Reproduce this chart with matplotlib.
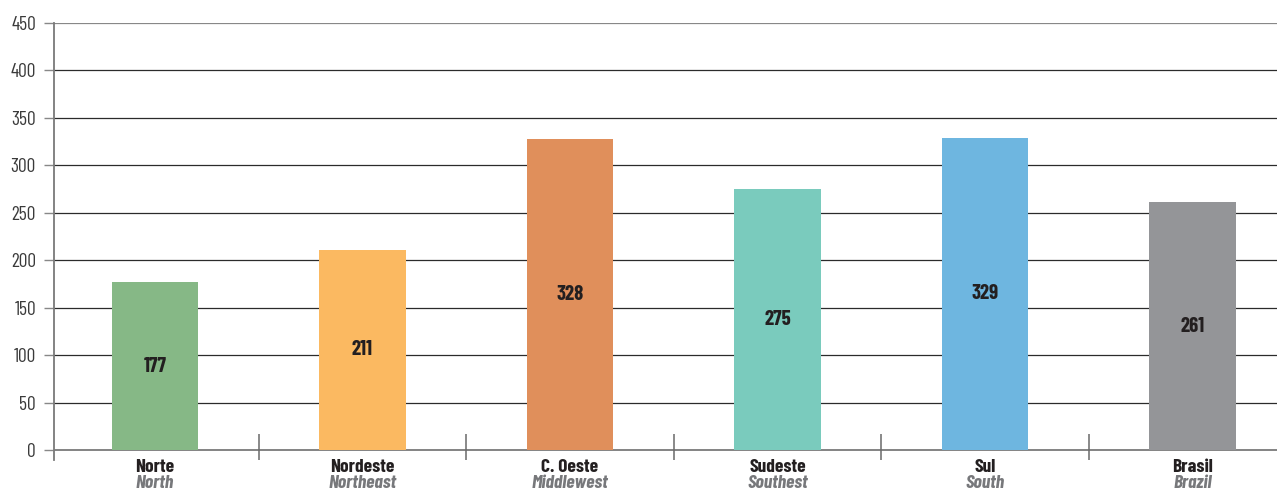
import matplotlib
matplotlib.use("Agg")
import matplotlib.pyplot as plt
import matplotlib.transforms as mtransforms
import numpy as np

regions_pt = ["Norte", "Nordeste", "C. Oeste", "Sudeste", "Sul", "Brasil"]
regions_en = ["North", "Northeast", "Middlewest", "Southest", "South", "Brazil"]
values = [177, 211, 328, 275, 329, 261]
colors = ["#86b886", "#fbb961", "#e08f5b", "#7acbbd", "#6eb6e0", "#949598"]
yticks = [0, 50, 100, 150, 200, 250, 300, 350, 400, 450]

plt.rcParams["font.family"] = ["Barlow Condensed", "DejaVu Sans"]

W, H = 1277, 492
fig = plt.figure(figsize=(W / 100, H / 100), dpi=100)
ax = fig.add_axes([54 / W, 32 / H, 1 - 54 / W, (460 - 23) / H])

x = np.arange(len(values))
ax.bar(x, values, width=0.415, color=colors, zorder=3)

for xi, v in zip(x, values):
    ax.text(xi, v / 2, f"{v}", ha="center", va="center", fontsize=15,
            fontweight="bold", color="#231f20", zorder=4)

ax.set_xlim(-0.487, 5.407)
ax.set_ylim(-10.5, 450)
ax.set_yticks(yticks)
ax.set_yticklabels([str(t) for t in yticks], fontsize=14, color="#3a3a3a", fontweight="normal")
ax.tick_params(axis="y", length=7, width=1, color="#888888", pad=6)
ax.set_xticks([])

ax.grid(axis="y", color="#2b2b2b", linewidth=0.9, zorder=1)
ax.yaxis.get_gridlines()[-1].set_color("#888888")
ax.yaxis.get_gridlines()[0].set_visible(False)
ax.axhline(0, color="#7a7a7a", linewidth=1.3, zorder=2)

for side in ["top", "right", "bottom"]:
    ax.spines[side].set_visible(False)
ax.spines["left"].set_color("#7a7a7a")
ax.spines["left"].set_linewidth(1.3)

# separators between regions
ax.vlines(x[:-1] + 0.5, -10.5, 17, color="#6a6a6a", linewidth=1.1, zorder=2)

trans = mtransforms.blended_transform_factory(ax.transData, ax.transAxes)
for xi, pt, en in zip(x, regions_pt, regions_en):
    ax.text(xi, 0, pt, transform=trans + mtransforms.ScaledTranslation(0, -8 / 100, fig.dpi_scale_trans),
            ha="center", va="center", fontsize=14, fontweight="bold", color="#231f20")
    ax.text(xi, 0, en, transform=trans + mtransforms.ScaledTranslation(0, -23.5 / 100, fig.dpi_scale_trans),
            ha="center", va="center", fontsize=14, fontweight="bold", style="italic", color="#77787b")

fig.savefig("out.png", dpi=100)
